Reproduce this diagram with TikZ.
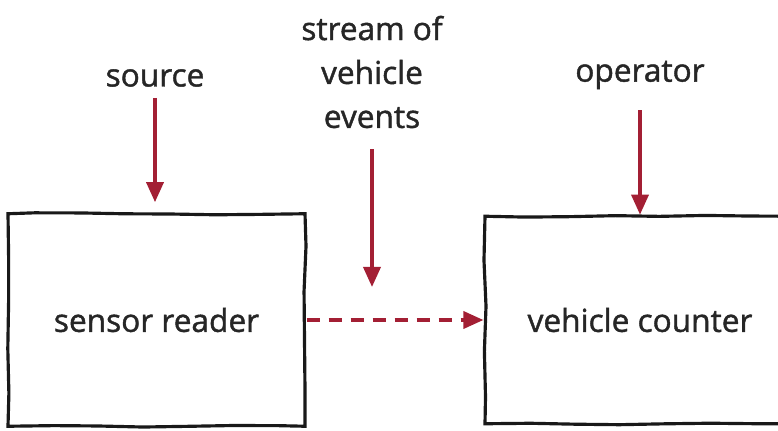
\documentclass[tikz,border=0pt]{standalone}
\usepackage{fontspec}
\setmainfont{Open Sans}
\newfontfamily\sketchfont{Open Sans}[FakeBold=1.3]
\usetikzlibrary{arrows.meta,decorations.pathmorphing}
\definecolor{arrowred}{RGB}{163,31,52}

\begin{document}
\begin{tikzpicture}[
    lbl/.style={font=\sketchfont\fontsize{18}{25}\selectfont, text=black!85, align=center},
    sketchbox/.style={draw=black!90, line width=1.8pt, minimum width=5.94cm, minimum height=4.25cm,
        font=\sketchfont\fontsize{18}{25}\selectfont, text=black!85,
        decorate, decoration={random steps, segment length=0.9cm, amplitude=0.6pt}},
    redarrow/.style={draw=arrowred, line width=2pt, -{Triangle[length=0.4cm,width=0.34cm]}},
]
    % --- canvas ---
    \useasboundingbox (0,0) rectangle (15.56,8.6);

    % --- boxes ---
    \node[sketchbox] (reader) at (3.13,2.2) {sensor reader};
    \node[sketchbox, minimum width=6.2cm, minimum height=4.15cm] (counter) at (12.8,2.2) {vehicle counter};

    % --- labels ---
    \node[lbl] (source) at (3.1,7.04) {source};
    \node[lbl] (stream) at (7.44,7.16) {stream of\\vehicle\\events};
    \node[lbl] (operator) at (12.8,7.1) {operator};
    \coordinate (streamtip) at (7.46,2.86);

    % --- arrows ---
    \draw[redarrow, shorten <=0.1cm, shorten >=0.2cm] (source) -- (source |- reader.north);
    \draw[redarrow, shorten <=0.3cm] (stream) -- (stream |- streamtip);
    \draw[redarrow, shorten <=0.3cm] (operator) -- (operator |- counter.north);
    \draw[redarrow, dash pattern=on 0.26cm off 0.18cm] (reader) -- (counter);
\end{tikzpicture}
\end{document}
